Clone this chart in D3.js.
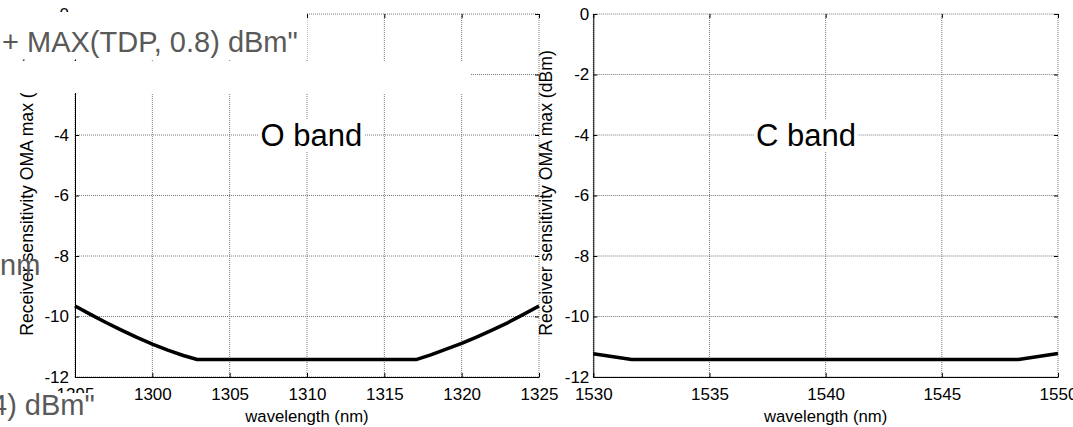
<!DOCTYPE html>
<html><head><meta charset="utf-8">
<script src="https://cdn.jsdelivr.net/npm/d3@7"></script>
<style>
body{margin:0;background:#fff;}
svg{display:block;}
text{font-family:Arial,"Liberation Sans",sans-serif;}
</style>
</head><body><svg id="c" width="1073" height="427"></svg>
<script>
// ---- data ----
const yTicks = [0, -2, -4, -6, -8, -10, -12];
const oTicks = [1295, 1300, 1305, 1310, 1315, 1320, 1325];
const cTicks = [1530, 1535, 1540, 1545, 1550];
const oWavelength = [1295, 1296, 1297, 1298, 1299, 1300, 1301, 1302, 1302.9, 1317.1, 1318, 1319, 1320, 1321, 1322, 1323, 1324, 1325];
const oSensitivity = [-9.65, -9.93, -10.2, -10.45, -10.69, -10.91, -11.11, -11.29, -11.42, -11.42, -11.27, -11.08, -10.89, -10.67, -10.44, -10.2, -9.93, -9.65];
const cWavelength = [1530, 1531.65, 1548.3, 1550];
const cSensitivity = [-11.23, -11.42, -11.42, -11.22];
const yLabel = "Receiver sensitivity OMA max (dBm)";
const xLabel = "wavelength (nm)";
const bandLabels = ["O band", "C band"];
const bandLabelPos = [[1307, -4], [1537, -4]];

const svg = d3.select("#c");
const yTop = 14, yBot = 377;

const panels = [
  {x0: 75, x1: 539, dom: [1295, 1325], ticks: oTicks, xs: oWavelength, ys: oSensitivity, label: bandLabels[0], lp: bandLabelPos[0], ylx: 33, pad: 6},
  {x0: 593.3, x1: 1058, dom: [1530, 1550], ticks: cTicks, xs: cWavelength, ys: cSensitivity, label: bandLabels[1], lp: bandLabelPos[1], ylx: 552, pad: 4}
];

panels.forEach(p => {
  const x = d3.scaleLinear().domain(p.dom).range([p.x0, p.x1]);
  const y = d3.scaleLinear().domain([0, -12]).range([yTop, yBot]);
  const g = svg.append("g");

  // grid (including borders on top/right)
  g.selectAll(".vg").data(p.ticks).join("line")
    .attr("x1", d => x(d)).attr("x2", d => x(d)).attr("y1", yTop).attr("y2", yBot)
    .attr("stroke", "#7a7a7a").attr("stroke-width", 1).attr("stroke-dasharray", "1,1");
  g.selectAll(".hg").data(yTicks).join("line")
    .attr("x1", p.x0).attr("x2", p.x1).attr("y1", d => y(d)).attr("y2", d => y(d))
    .attr("stroke", "#7a7a7a").attr("stroke-width", 1).attr("stroke-dasharray", "1,1");

  // band label with white background
  const t = g.append("text").attr("x", x(p.lp[0])).attr("y", y(p.lp[1]))
    .attr("dy", "0.35em").attr("font-size", 31).attr("fill", "#000").text(p.label);
  const bb = t.node().getBBox();
  g.insert("rect", "text").attr("x", bb.x - 2).attr("y", bb.y + 1).attr("width", bb.width + 4).attr("height", bb.height - 2).attr("fill", "#fff");

  // axes
  const ax = g.append("g").attr("transform", `translate(0,${yBot})`)
    .call(d3.axisBottom(x).tickValues(p.ticks).tickSize(-4).tickSizeOuter(0).tickPadding(12).tickFormat(d => String(d)));
  const ay = g.append("g").attr("transform", `translate(${p.x0},0)`)
    .call(d3.axisLeft(y).tickValues(yTicks).tickSize(-4).tickSizeOuter(0).tickPadding(p.pad).tickFormat(d => String(d)));
  const at = g.append("g").attr("transform", `translate(0,${yTop})`)
    .call(d3.axisTop(x).tickValues(p.ticks).tickSize(-4).tickSizeOuter(0).tickFormat(""));
  const ar = g.append("g").attr("transform", `translate(${p.x1},0)`)
    .call(d3.axisRight(y).tickValues(yTicks).tickSize(-4).tickSizeOuter(0).tickFormat(""));
  at.select(".domain").remove();
  ar.select(".domain").remove();
  [ax, ay, at, ar].forEach(a => {
    a.selectAll("text").attr("font-size", 17).attr("font-family", "Arial, 'Liberation Sans', sans-serif").attr("fill", "#000");
    a.selectAll("line").attr("stroke", "#000");
    a.select(".domain").attr("stroke", "#000");
  });
  ax.selectAll("text").attr("dy", "0.71em").attr("y", 11);

  // data line
  const pts = p.xs.map((v, i) => [v, p.ys[i]]);
  g.append("path").datum(pts)
    .attr("d", d3.line().x(d => x(d[0])).y(d => y(d[1])))
    .attr("fill", "none").attr("stroke", "#000").attr("stroke-width", 3.5).attr("stroke-linejoin", "round");

  // labels
  g.append("text").attr("x", (p.x0 + p.x1) / 2).attr("y", 422).attr("text-anchor", "middle")
    .attr("font-size", 16.7).text(xLabel);
  g.append("text").attr("transform", `translate(${p.ylx},193) rotate(-90)`).attr("text-anchor", "middle")
    .attr("font-size", 17.6).text(yLabel);
});

// overlaid fragments from another layer
const ov = svg.append("g");
ov.append("rect").attr("x", 0).attr("y", 12).attr("width", 307).attr("height", 47.5).attr("fill", "#fff");
ov.append("rect").attr("x", 0).attr("y", 61).attr("width", 470).attr("height", 32).attr("fill", "#fff");
ov.append("text").attr("x", 2).attr("y", 52).attr("font-size", 29).attr("fill", "#595959").text('+ MAX(TDP, 0.8) dBm"');
ov.append("text").attr("x", 0).attr("y", 275).attr("font-size", 29).attr("fill", "#595959").text("nm");
ov.append("rect").attr("x", 0).attr("y", 393).attr("width", 96).attr("height", 34).attr("fill", "#fff");
ov.append("text").attr("x", -9).attr("y", 415).attr("font-size", 29).attr("fill", "#595959").text('4) dBm"');
</script>
</body></html>
